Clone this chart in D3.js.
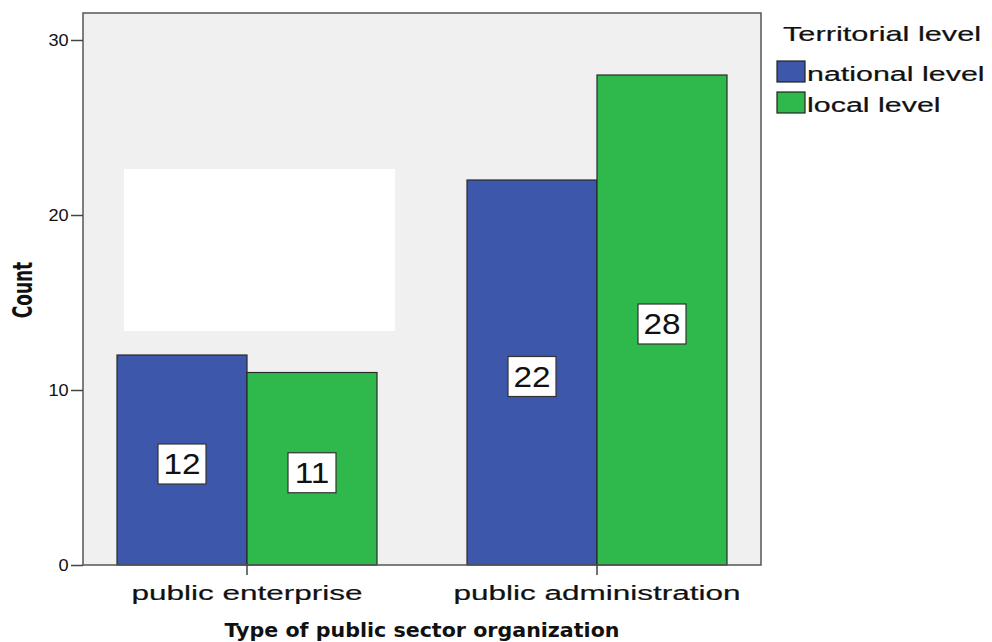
<!DOCTYPE html>
<html>
<head>
<meta charset="utf-8">
<script src="https://cdn.jsdelivr.net/npm/d3@7"></script>
<style>
    body { margin: 0; background: #fff; }
    svg text { font-family: "Liberation Sans", Arial, sans-serif; fill: #111; }
    .thick { stroke: #111; stroke-width: 0.2px; }
</style>
</head>
<body>
<svg id="chart"></svg>
<script>
// data
const categories = ["public enterprise", "public administration"];
const seriesNames = ["national level", "local level"];
const nationalValues = [12, 22];
const localValues = [11, 28];
const yTicks = [0, 10, 20, 30];
const colors = ["#3d57ab", "#2fb84b"];

const width = 992, height = 642;
const plot = { left: 83, top: 13, right: 761, bottom: 565 };

const svg = d3.select("#chart")
    .attr("width", width)
    .attr("height", height);

// 30 sits at y=40
const y = d3.scaleLinear()
    .domain([0, 30])
    .range([plot.bottom, 40]);

const x0 = d3.scaleBand()
    .domain(categories)
    .range([plot.left, plot.right])
    .paddingInner(90 / 350)
    .paddingOuter(34 / 350);

const x1 = d3.scaleBand()
    .domain(seriesNames)
    .range([0, x0.bandwidth()]);

// plot background
svg.append("rect")
    .attr("x", plot.left)
    .attr("y", plot.top)
    .attr("width", plot.right - plot.left)
    .attr("height", plot.bottom - plot.top)
    .attr("fill", "#f0f0f0");

// the blank white patch in the picture
svg.append("rect")
    .attr("x", 124)
    .attr("y", 169)
    .attr("width", 271)
    .attr("height", 162)
    .attr("fill", "#ffffff");

const rows = categories.map((c, i) => ({
    category: c,
    values: [nationalValues[i], localValues[i]]
}));

const groups = svg.append("g")
    .selectAll("g")
    .data(rows)
    .join("g")
    .attr("transform", d => `translate(${x0(d.category)},0)`);

const bars = groups.selectAll("g.bar")
    .data(d => d.values.map((v, j) => ({ name: seriesNames[j], value: v, j: j })))
    .join("g")
    .attr("class", "bar");

bars.append("rect")
    .attr("x", d => x1(d.name))
    .attr("y", d => y(d.value))
    .attr("width", x1.bandwidth())
    .attr("height", d => y(0) - y(d.value))
    .attr("fill", d => colors[d.j])
    .attr("stroke", "#2a2a2a")
    .attr("stroke-width", 1.2);

// value label boxes
const lab = bars.append("g")
    .attr("transform", d => `translate(${x1(d.name) + x1.bandwidth() / 2},${y(d.value / 2) + 4})`);

lab.append("rect")
    .attr("x", -24)
    .attr("y", -20)
    .attr("width", 48)
    .attr("height", 40)
    .attr("fill", "#fff")
    .attr("stroke", "#333")
    .attr("stroke-width", 1.2);

lab.append("text")
    .attr("text-anchor", "middle")
    .attr("dy", "0.36em")
    .attr("transform", "scale(1.15,1)")
    .style("font-size", "29px")
    .text(d => d.value);

// frame
svg.append("rect")
    .attr("x", plot.left)
    .attr("y", plot.top)
    .attr("width", plot.right - plot.left)
    .attr("height", plot.bottom - plot.top)
    .attr("fill", "none")
    .attr("stroke", "#555")
    .attr("stroke-width", 1.5);

// y axis
const yAxis = svg.append("g")
    .attr("transform", `translate(${plot.left},0)`)
    .call(d3.axisLeft(y).tickValues(yTicks).tickSize(12).tickPadding(1));
yAxis.select(".domain").remove();
yAxis.selectAll("line").attr("stroke", "#444").attr("stroke-width", 1.5);
yAxis.selectAll("text")
    .attr("transform", "scale(1.1,1)")
    .style("font-size", "16.5px")
    .style("font-family", "Liberation Sans, Arial, sans-serif")
    .attr("fill", "#333");

// x axis
const xAxis = svg.append("g")
    .attr("transform", `translate(0,${plot.bottom})`)
    .call(d3.axisBottom(x0).tickSize(10).tickPadding(10));
xAxis.select(".domain").remove();
xAxis.selectAll("line").attr("stroke", "#444").attr("stroke-width", 1.5);
xAxis.selectAll("text")
    .attr("class", "thick")
    .attr("transform", "scale(1.5,1)")
    .style("font-size", "21px")
    .style("font-family", "Liberation Sans, Arial, sans-serif")
    .attr("fill", "#111");

// axis titles
svg.append("text")
    .attr("x", 422)
    .attr("y", 637)
    .attr("text-anchor", "middle")
    .attr("textLength", 395)
    .attr("lengthAdjust", "spacingAndGlyphs")
    .style("font-family", "DejaVu Sans, Verdana, sans-serif")
    .style("font-size", "19px")
    .style("font-weight", "bold")
    .text("Type of public sector organization");

svg.append("text")
    .attr("transform", "translate(32,290) scale(1.6,1) rotate(-90)")
    .attr("text-anchor", "middle")
    .style("font-family", "DejaVu Sans, Verdana, sans-serif")
    .style("font-size", "17px")
    .style("font-weight", "bold")
    .text("Count");

// legend
const legend = svg.append("g").attr("transform", "translate(777,0)");

legend.append("text")
    .attr("class", "thick")
    .attr("transform", "translate(6,41) scale(1.5,1)")
    .style("font-size", "20.5px")
    .text("Territorial level");

const items = legend.selectAll("g.item")
    .data(seriesNames)
    .join("g")
    .attr("class", "item")
    .attr("transform", (d, i) => `translate(0,${61 + i * 31})`);

items.append("rect")
    .attr("width", 28)
    .attr("height", 21)
    .attr("fill", (d, i) => colors[i])
    .attr("stroke", "#222")
    .attr("stroke-width", 1.2);

items.append("text")
    .attr("class", "thick")
    .attr("transform", "translate(30,20) scale(1.56,1)")
    .style("font-size", "19.5px")
    .text(d => d);
</script>
</body>
</html>
